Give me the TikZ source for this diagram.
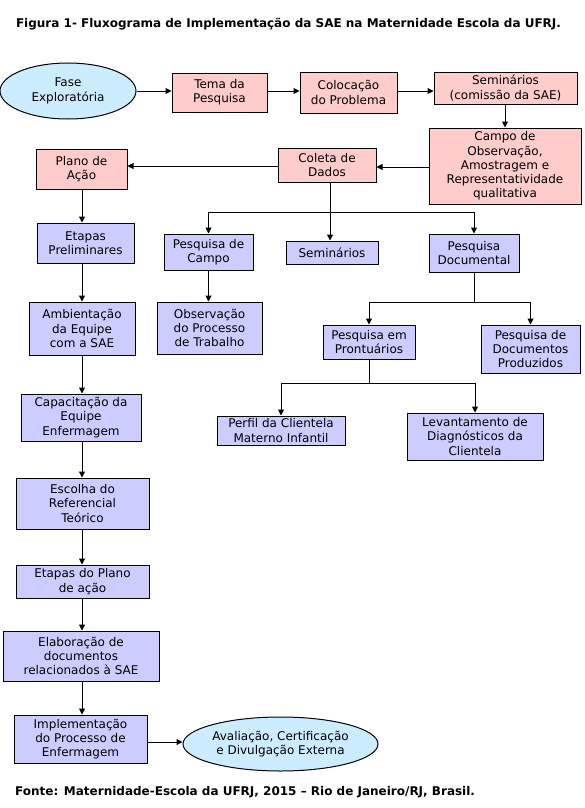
\documentclass[tikz,border=0pt]{standalone}
\usepackage{fontspec}
\setmainfont{DejaVu Sans}
\usetikzlibrary{shapes.geometric,arrows.meta}
\definecolor{pinkf}{RGB}{255,204,204}
\definecolor{bluef}{RGB}{204,204,255}
\definecolor{cyanf}{RGB}{204,236,255}
\tikzset{
  base/.style={draw=black,line width=1pt,inner sep=0pt,align=center,
    font=\fontsize{12pt}{14.3pt}\selectfont},
  pinkbox/.style={base,fill=pinkf},
  bluebox/.style={base,fill=bluef},
  ovalbox/.style={base,ellipse,fill=cyanf},
  arr/.style={line width=1pt,-{Triangle[length=6pt,width=6pt]}},
  ln/.style={line width=1pt},
  wh/.style 2 args={minimum width=#1pt,minimum height=#2pt},
  caption/.style={inner sep=0pt,font=\bfseries\fontsize{12pt}{14pt}\selectfont}
}
\begin{document}
\begin{tikzpicture}[x=1pt,y=-1pt]
\useasboundingbox (0,0) rectangle (585,808);
\node[caption] (title) at (288.5,24) {Figura 1- Fluxograma de Implementação da SAE na Maternidade Escola da UFRJ.};
\node[caption,anchor=west] (fonte) at (15,792) {Fonte: Maternidade-Escola da UFRJ, 2015 – Rio de Janeiro/RJ, Brasil.};

\node[ovalbox,wh={136}{56}] (fase) at (68,91) {Fase\\Exploratória};
\node[pinkbox,wh={95}{39}] (tema) at (219.5,92.5) {Tema da\\Pesquisa};
\node[pinkbox,wh={97}{41}] (coloc) at (348.5,92.5) {Colocação\\do Problema};
\node[pinkbox,wh={143}{32}] (sem) at (505.5,88) {Seminários\\(comissão da SAE)};
\node[pinkbox,wh={152}{76}] (campo) at (505,166) {Campo de\\Observação,\\Amostragem e\\Representatividade\\qualitativa};
\node[pinkbox,wh={98}{34}] (coleta) at (327,165) {Coleta de\\Dados};
\node[pinkbox,wh={91}{40}] (plano) at (81.5,169) {Plano de\\Ação};

\node[bluebox,wh={97}{40}] (etapas) at (85.5,243) {Etapas\\Preliminares};
\node[bluebox,wh={106}{53}] (amb) at (82,328.5) {Ambientação\\da Equipe\\com a SAE};
\node[bluebox,wh={120}{47}] (cap) at (81,417.5) {Capacitação da\\Equipe\\Enfermagem};
\node[bluebox,wh={133}{51}] (esc) at (82.5,503.5) {Escolha do\\Referencial\\Teórico};
\node[bluebox,wh={133}{33}] (etplano) at (82.5,581.5) {Etapas do Plano\\de ação};
\node[bluebox,wh={156}{50}] (elab) at (81,656) {Elaboração de\\documentos\\relacionados à SAE};
\node[bluebox,wh={133}{48}] (impl) at (80.5,739) {Implementação\\do Processo de\\Enfermagem};
\node[ovalbox,wh={195}{54}] (aval) at (280.5,744) {Avaliação, Certificação\\e Divulgação Externa};

\node[bluebox,wh={89}{36}] (pcampo) at (208.5,252) {Pesquisa de\\Campo};
\node[bluebox,wh={92}{23}] (sem2) at (332,252.5) {Seminários};
\node[bluebox,wh={90}{38}] (pdoc) at (474,253) {Pesquisa\\Documental};
\node[bluebox,wh={105}{52}] (obs) at (209.5,328) {Observação\\do Processo\\de Trabalho};
\node[bluebox,wh={92}{34}] (pront) at (369,342) {Pesquisa em\\Prontuários};
\node[bluebox,wh={99}{48}] (pdocs) at (530.5,349) {Pesquisa de\\Documentos\\Produzidos};
\node[bluebox,wh={128}{29}] (perfil) at (281,430.5) {Perfil da Clientela\\Materno Infantil};
\node[bluebox,wh={136}{47}] (lev) at (475,436.5) {Levantamento de\\Diagnósticos da\\Clientela};

\coordinate (j1) at (330,212);
\coordinate (j2) at (474,302);
\coordinate (j3) at (368,383);

% top row
\draw[arr] (fase.east |- 0,91) -- (tema.west |- 0,91);
\draw[arr] (tema.east |- 0,91) -- (coloc.west |- 0,91);
\draw[arr] (coloc.east |- 0,91) -- (sem.west |- 0,91);
\draw[arr] (sem.south -| 505,0) -- (campo.north -| 505,0);
\draw[arr] (campo.west |- 0,167) -- (coleta.east |- 0,167);
\draw[arr] (coleta.west |- 0,166) -- (plano.east |- 0,166);
% left column
\draw[arr] (plano.south -| 82,0) -- (etapas.north -| 82,0);
\draw[arr] (etapas.south -| 82,0) -- (amb.north -| 82,0);
\draw[arr] (amb.south -| 82,0) -- (cap.north -| 82,0);
\draw[arr] (cap.south -| 82,0) -- (esc.north -| 82,0);
\draw[arr] (esc.south -| 82,0) -- (etplano.north -| 82,0);
\draw[arr] (etplano.south -| 82,0) -- (elab.north -| 82,0);
\draw[arr] (elab.south -| 82,0) -- (impl.north -| 82,0);
\draw[arr] (impl.east |- 0,742) -- (aval.west |- 0,742);
% coleta branches
\draw[arr] (coleta.south -| j1) -- (sem2.north -| j1);
\draw[ln] (j1 -| pcampo.north) -- (j1 -| pdoc.north);
\draw[arr] (j1 -| pcampo.north) -- (pcampo.north);
\draw[arr] (j1 -| pdoc.north) -- (pdoc.north);
\draw[arr] (pcampo.south) -- (obs.north -| pcampo.south);
% documental branches
\draw[ln] (pdoc.south) -- (j2);
\draw[ln] (j2 -| pront.north) -- (j2 -| pdocs.north);
\draw[arr] (j2 -| pront.north) -- (pront.north);
\draw[arr] (j2 -| pdocs.north) -- (pdocs.north);
% prontuarios branches
\draw[ln] (pront.south) -- (j3 -| pront.south);
\draw[ln] (j3 -| perfil.north) -- (j3 -| lev.north);
\draw[arr] (j3 -| perfil.north) -- (perfil.north);
\draw[arr] (j3 -| lev.north) -- (lev.north);
\end{tikzpicture}
\end{document}
